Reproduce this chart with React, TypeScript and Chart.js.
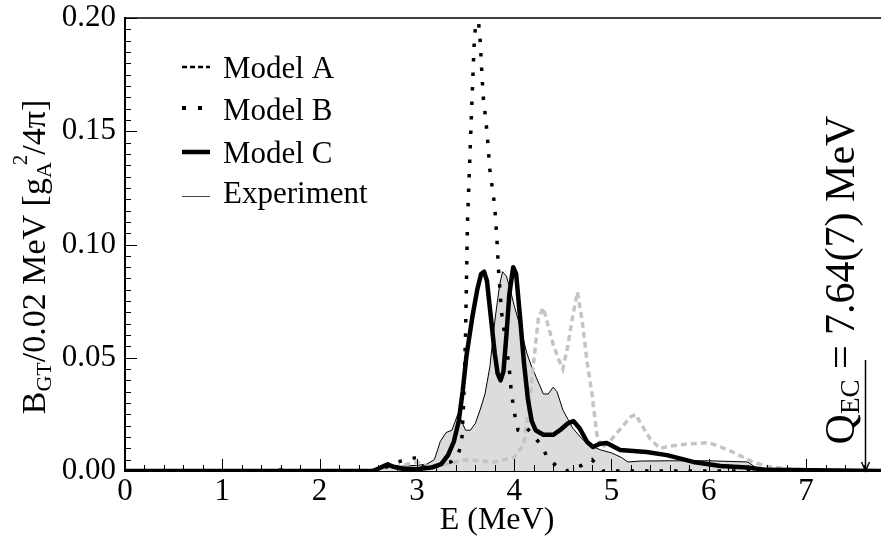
import React, { useEffect, useRef } from "react";
import { Chart, registerables } from "chart.js";

Chart.register(...registerables);

const FONT = "'Liberation Serif', 'Times New Roman', Times, serif";

// ---- axes ----
const xTicks = [0, 1, 2, 3, 4, 5, 6, 7];
const yTicks = [0, 0.05, 0.1, 0.15, 0.2];
const X_MAX = 7.77;
const Y_MAX = 0.2;
const qEC = 7.64;
const legendLabels = ["Model A", "Model B", "Model C", "Experiment"];

// ---- Model A (dashed) ----
const modelAE = [
  0, 2.5, 2.6, 2.8, 3.0, 3.1, 3.3, 3.5, 3.8, 4.0,
  4.1, 4.15, 4.2, 4.25, 4.3, 4.35, 4.4, 4.45, 4.5, 4.55,
  4.6, 4.65, 4.7, 4.75, 4.8, 4.85, 4.9, 5.0, 5.1, 5.2,
  5.25, 5.3, 5.4, 5.5, 5.6, 5.8, 6.0, 6.1, 6.25, 6.45,
  6.6, 6.8, 7.0, 7.77,
];
const modelAV = [
  0, 0, 0.001, 0.002, 0.004, 0.002, 0.003, 0.005, 0.004, 0.006,
  0.012, 0.028, 0.048, 0.068, 0.072, 0.064, 0.056, 0.05, 0.045, 0.055,
  0.068, 0.079, 0.066, 0.048, 0.034, 0.016, 0.01, 0.014, 0.019, 0.024,
  0.025, 0.021, 0.014, 0.01, 0.011, 0.012, 0.0125, 0.011, 0.0083, 0.004,
  0.002, 0.001, 0.0005, 0,
];

// ---- Model B (dotted) ----
const modelBE = [
  0, 2.6, 2.7, 2.8, 2.9, 3.0, 3.05, 3.15, 3.25, 3.35,
  3.42, 3.46, 3.48, 3.5, 3.52, 3.55, 3.57, 3.59, 3.62, 3.65,
  3.68, 3.72, 3.75, 3.8, 3.82, 3.84, 3.87, 3.92, 3.95, 3.97,
  4.0, 4.04, 4.09, 4.13, 4.21, 4.29, 4.34, 4.44, 4.54, 4.7,
  4.8, 4.91, 7.77,
];
const modelBV = [
  0, 0, 0.002, 0.004, 0.005, 0.006, 0.002, 0.001, 0.003, 0.004,
  0.007, 0.012, 0.03, 0.06, 0.11, 0.145, 0.168, 0.19, 0.205, 0.19,
  0.166, 0.15, 0.133, 0.117, 0.104, 0.088, 0.07, 0.055, 0.045, 0.035,
  0.026, 0.018, 0.017, 0.019, 0.015, 0.0106, 0.006, 0.002, 0, 0.0026,
  0.005, 0, 0,
];

// ---- Model C (thick) ----
const modelCE = [
  0, 2.55, 2.65, 2.7, 2.75, 2.85, 3.0, 3.15, 3.25, 3.32,
  3.38, 3.43, 3.47, 3.51, 3.57, 3.62, 3.66, 3.69, 3.72, 3.76,
  3.8, 3.83, 3.86, 3.89, 3.92, 3.95, 3.99, 4.02, 4.06, 4.1,
  4.14, 4.18, 4.22, 4.3, 4.4, 4.47, 4.55, 4.61, 4.67, 4.75,
  4.81, 4.88, 4.95, 5.09, 5.36, 5.57, 5.84, 6.12, 6.39, 6.6,
  7.77,
];
const modelCV = [
  0, 0, 0.002, 0.003, 0.002, 0.001, 0.0008, 0.0015, 0.003, 0.007,
  0.013, 0.022, 0.035, 0.051, 0.068, 0.08, 0.087, 0.088, 0.084, 0.068,
  0.052, 0.043, 0.04, 0.044, 0.06, 0.078, 0.09, 0.087, 0.068, 0.048,
  0.032, 0.022, 0.018, 0.016, 0.016, 0.018, 0.021, 0.022, 0.019, 0.0128,
  0.0106, 0.012, 0.0124, 0.0093, 0.0084, 0.007, 0.004, 0.0022, 0.0015, 0.0005,
  0,
];

// ---- Experiment (thin line, gray fill) ----
const expE = [
  0, 1.0, 1.55, 1.6, 1.65, 2.5, 2.7, 2.8, 3.0, 3.1,
  3.18, 3.24, 3.3, 3.36, 3.42, 3.46, 3.5, 3.55, 3.6, 3.65,
  3.7, 3.75, 3.8, 3.85, 3.88, 3.92, 3.96, 4.0, 4.06, 4.13,
  4.18, 4.23, 4.3, 4.35, 4.4, 4.44, 4.5, 4.55, 4.6, 4.68,
  4.76, 4.89, 5.0, 5.1, 5.17, 5.3, 5.6, 6.0, 6.4, 6.5,
  7.0, 7.77,
];
const expV = [
  0, 0.0003, 0.0003, 0.0012, 0.0003, 0.0005, 0.0015, 0.002, 0.0025, 0.003,
  0.005, 0.013, 0.017, 0.018, 0.025, 0.022, 0.018, 0.018, 0.021, 0.027,
  0.034, 0.046, 0.066, 0.082, 0.088, 0.086, 0.08, 0.073, 0.064, 0.052,
  0.046, 0.041, 0.034, 0.034, 0.037, 0.035, 0.027, 0.023, 0.019, 0.015,
  0.0115, 0.0093, 0.008, 0.006, 0.004, 0.0044, 0.0045, 0.0045, 0.004, 0.001,
  0.0003, 0,
];

const toPts = (e: number[], v: number[]) => e.map((x, i) => ({ x, y: v[i] }));

type Seg = { t: string; s: number; dy?: number; dx?: number };

function drawRich(ctx: CanvasRenderingContext2D, segs: Seg[], cx: number, baseY: number) {
  const widths = segs.map((sg) => {
    ctx.font = `${sg.s}px ${FONT}`;
    return ctx.measureText(sg.t).width;
  });
  const total = widths.reduce((a, b, i) => a + b + (segs[i].dx || 0), 0);
  let x = cx - total / 2;
  ctx.textAlign = "left";
  ctx.textBaseline = "alphabetic";
  segs.forEach((sg, i) => {
    ctx.font = `${sg.s}px ${FONT}`;
    x += sg.dx || 0;
    ctx.fillText(sg.t, x, baseY + (sg.dy || 0));
    x += widths[i];
  });
}

const decor = {
  id: "decor",
  afterDatasetsDraw(chart: any) {
    const { ctx, chartArea, scales } = chart;
    const xs = scales.x;
    const ys = scales.y;
    const { left, right, top, bottom } = chartArea;
    ctx.save();
    ctx.strokeStyle = "#000";
    ctx.fillStyle = "#000";
    // top frame line
    ctx.lineWidth = 1.5;
    ctx.beginPath();
    ctx.moveTo(left, top);
    ctx.lineTo(right, top);
    ctx.stroke();
    // x inward ticks
    ctx.lineWidth = 1;
    for (let i = 0; i * 0.2 <= X_MAX + 1e-9; i++) {
      const v = i * 0.2;
      const px = Math.round(xs.getPixelForValue(v)) + 0.5;
      const len = i % 5 === 0 ? 12 : 6;
      ctx.beginPath();
      ctx.moveTo(px, bottom);
      ctx.lineTo(px, bottom - len);
      ctx.stroke();
    }
    // y inward ticks
    for (let i = 0; i <= 40; i++) {
      const v = i * 0.005;
      const py = Math.round(ys.getPixelForValue(v)) + 0.5;
      const len = i % 10 === 0 ? 12 : 6;
      ctx.beginPath();
      ctx.moveTo(left, py);
      ctx.lineTo(left + len, py);
      ctx.stroke();
    }
    // Q_EC arrow
    const ax = Math.round(xs.getPixelForValue(qEC)) - 2.5;
    ctx.lineWidth = 1.5;
    ctx.beginPath();
    ctx.moveTo(ax, 360);
    ctx.lineTo(ax, bottom);
    ctx.stroke();
    ctx.beginPath();
    ctx.moveTo(ax - 4, bottom - 9);
    ctx.lineTo(ax, bottom);
    ctx.lineTo(ax + 4, bottom - 9);
    ctx.stroke();
    ctx.restore();
  },
  afterDraw(chart: any) {
    const { ctx } = chart;
    ctx.save();
    ctx.fillStyle = "#000";
    // x title
    drawRich(ctx, [{ t: "E (MeV)", s: 32 }], 497, 529);
    // y title (rotated)
    ctx.save();
    ctx.translate(45, 257);
    ctx.rotate(-Math.PI / 2);
    drawRich(
      ctx,
      [
        { t: "B", s: 34 },
        { t: "GT", s: 22, dy: 6 },
        { t: "/0.02 MeV [g", s: 34 },
        { t: "A", s: 22, dy: 6 },
        { t: "2", s: 21, dy: -18, dx: -3 },
        { t: "/4π]", s: 34 },
      ],
      0,
      0
    );
    ctx.restore();
    // Q_EC label (rotated)
    ctx.save();
    ctx.translate(854, 280);
    ctx.rotate(-Math.PI / 2);
    drawRich(
      ctx,
      [
        { t: "Q", s: 42 },
        { t: "EC", s: 27, dy: 5 },
        { t: " = 7.64(7) MeV", s: 42 },
      ],
      0,
      0
    );
    ctx.restore();
    // legend
    const lx0 = 182;
    const lx1 = 210;
    const tx = 223;
    const rows = [
      { base: 78, y: 67 },
      { base: 120, y: 108 },
      { base: 163, y: 152 },
      { base: 203, y: 196 },
    ];
    ctx.strokeStyle = "#000";
    // Model A sample
    ctx.lineWidth = 2.5;
    ctx.setLineDash([5, 3]);
    ctx.beginPath();
    ctx.moveTo(lx0, rows[0].y);
    ctx.lineTo(lx1, rows[0].y);
    ctx.stroke();
    ctx.setLineDash([]);
    // Model B sample
    ctx.fillRect(182, rows[1].y - 2, 4, 4);
    ctx.fillRect(198, rows[1].y - 2, 4, 4);
    // Model C sample
    ctx.lineWidth = 4.5;
    ctx.beginPath();
    ctx.moveTo(lx0, rows[2].y);
    ctx.lineTo(lx1, rows[2].y);
    ctx.stroke();
    // Experiment sample
    ctx.lineWidth = 1;
    ctx.strokeStyle = "#444";
    ctx.beginPath();
    ctx.moveTo(lx0, rows[3].y + 0.5);
    ctx.lineTo(lx1, rows[3].y + 0.5);
    ctx.stroke();
    ctx.font = `31px ${FONT}`;
    ctx.textAlign = "left";
    ctx.textBaseline = "alphabetic";
    legendLabels.forEach((lab, i) => ctx.fillText(lab, tx, rows[i].base));
    ctx.restore();
  },
};

export default function App() {
  const ref = useRef<HTMLCanvasElement | null>(null);
  useEffect(() => {
    if (!ref.current) return;
    const tickFont = { family: FONT, size: 31 };
    const chart = new Chart(ref.current, {
      type: "line",
      data: {
        datasets: [
          {
            label: legendLabels[1],
            data: toPts(modelBE, modelBV),
            borderColor: "#000",
            borderWidth: 3.5,
            borderDash: [3.5, 11],
            pointRadius: 0,
            fill: false,
            order: 1,
          },
          {
            label: legendLabels[2],
            data: toPts(modelCE, modelCV),
            borderColor: "#000",
            borderWidth: 4.5,
            borderJoinStyle: "round",
            pointRadius: 0,
            fill: false,
            order: 2,
          },
          {
            label: legendLabels[0],
            data: toPts(modelAE, modelAV),
            borderColor: "#c4c4c4",
            borderWidth: 3.5,
            borderDash: [6, 4],
            pointRadius: 0,
            fill: false,
            order: 3,
          },
          {
            label: legendLabels[3],
            data: toPts(expE, expV),
            borderColor: "#000",
            borderWidth: 1,
            backgroundColor: "#dcdcdc",
            pointRadius: 0,
            fill: "origin",
            order: 4,
          },
        ],
      } as any,
      options: {
        animation: false,
        responsive: false,
        maintainAspectRatio: false,
        layout: { padding: { top: 18, right: 0, left: 0, bottom: 0 } },
        plugins: { legend: { display: false }, tooltip: { enabled: false } },
        scales: {
          x: {
            type: "linear",
            min: 0,
            max: X_MAX,
            grid: { display: false, drawTicks: false },
            border: { display: true, color: "#000", width: 2 },
            ticks: {
              autoSkip: false,
              maxRotation: 0,
              padding: 2,
              color: "#000",
              font: tickFont,
              callback: (v: any) => String(v),
            },
            afterBuildTicks: (s: any) => {
              s.ticks = xTicks.map((v) => ({ value: v }));
            },
            afterFit: (s: any) => {
              s.height = 65;
              s.paddingLeft = 0;
              s.paddingRight = 0;
            },
          },
          y: {
            type: "linear",
            min: 0,
            max: Y_MAX,
            grid: { display: false, drawTicks: false },
            border: { display: true, color: "#000", width: 2 },
            ticks: {
              padding: 9,
              color: "#000",
              font: tickFont,
              callback: (v: any) => Number(v).toFixed(2),
            },
            afterBuildTicks: (s: any) => {
              s.ticks = yTicks.map((v) => ({ value: v }));
            },
            afterFit: (s: any) => {
              s.width = 125;
              s.paddingTop = 0;
              s.paddingBottom = 0;
            },
          },
        },
      } as any,
      plugins: [decor],
    });
    return () => chart.destroy();
  }, []);
  return (
    <div style={{ position: "fixed", left: 0, top: 0, width: 881, height: 536, background: "#fff" }}>
      <canvas ref={ref} width={881} height={536} style={{ display: "block" }} />
    </div>
  );
}
